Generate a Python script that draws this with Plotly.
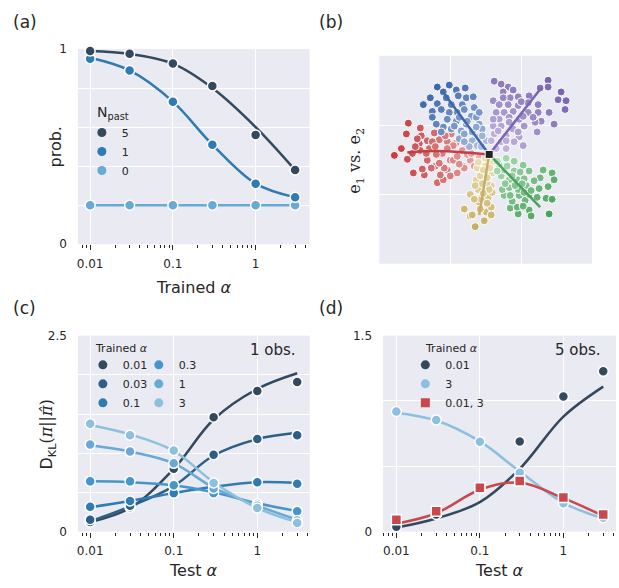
import math
import plotly.graph_objects as go

W, H = 619, 588
FONT = "DejaVu Sans"
TXT = "#262626"

# ---------------- data ----------------
alphas = [0.01, 0.03, 0.1, 0.3, 1, 3]

# (a) probability vs trained alpha
npast_labels = ["5", "1", "0"]
prob_n5 = [0.99, 0.975, 0.925, 0.81, 0.56, 0.38]
prob_n1 = [0.95, 0.89, 0.73, 0.51, 0.31, 0.24]
prob_n0 = [0.20, 0.20, 0.20, 0.20, 0.20, 0.20]
fit_n5 = [0.99, 0.975, 0.925, 0.80, 0.60, 0.38]
fit_n1 = [0.955, 0.89, 0.73, 0.51, 0.31, 0.24]
fit_n0 = [0.20, 0.20, 0.20, 0.20, 0.20, 0.20]

# (b) embedding scatter (arbitrary units)
center_xy = [110, 112]
blue_x = [58, 70, 64, 51, 44, 58, 86, 53, 77, 67, 79, 87, 72, 83, 95, 62, 70, 78, 92, 53, 68, 97, 77, 64, 87, 100, 72, 82, 93, 103, 80, 93, 100, 90, 98, 107, 94,
          85, 100, 75, 85, 97, 88, 103, 85, 102, 80, 62, 57]
blue_y = [181, 183, 176, 170, 163, 164, 180, 156, 178, 170, 172, 170, 163, 163, 160, 158, 155, 155, 151, 150, 148, 150, 146, 140, 143, 143, 138, 136, 135, 138, 128, 126, 130, 120, 121, 126, 171,
          158, 155, 141, 133, 140, 146, 131, 125, 120, 150, 135, 143]
purple_x = [169, 169, 182, 179, 187, 186, 175, 162, 170, 158, 115, 122, 129, 150, 161, 114, 124, 131, 139, 120, 129, 139, 149, 159, 117, 125, 134, 149, 159, 120, 130, 140, 156, 114, 122, 134, 145, 115, 127, 140, 112, 122, 135, 144, 117, 127,
            119, 130, 139, 144, 124, 134, 142, 154, 127, 114]
purple_y = [188, 181, 176, 168, 167, 158, 143, 146, 155, 135, 187, 184, 181, 172, 180, 167, 176, 170, 171, 163, 163, 162, 165, 163, 155, 155, 156, 155, 155, 148, 150, 148, 145, 141, 141, 138, 141, 133, 131, 130, 126, 125, 125, 121, 118, 118,
            136, 145, 135, 151, 170, 178, 166, 150, 126, 148]
red_x = [29, 27, 41, 42, 55, 63, 72, 15, 33, 50, 40, 60, 68, 77, 87, 97, 48, 83, 28, 34, 45, 58, 64, 41, 48, 56, 68, 78, 84, 71, 91, 98, 63, 83, 74, 53, 38, 43, 52, 61, 71, 65, 60, 74, 85, 95,
         88, 92, 78, 68, 57, 47, 80, 100, 90, 66, 56, 36, 22]
red_y = [144, 133, 139, 131, 134, 136, 133, 111, 113, 118, 123, 127, 125, 124, 121, 120, 126, 131, 107, 93, 91, 83, 86, 116, 106, 100, 96, 93, 100, 106, 106, 100, 113, 116, 121, 125, 128, 97, 98, 91, 90, 98, 103, 106, 98, 100,
         112, 113, 110, 118, 112, 113, 102, 108, 125, 131, 120, 120, 118]
yellow_x = [91, 85, 91, 96, 105, 100, 107, 100, 97, 105, 103, 107, 112, 109, 112, 112, 114, 110, 102, 108, 101, 106, 98, 113, 99, 113, 93,
            104, 108, 103, 110, 104, 95, 108, 101, 96, 111, 106, 99]
yellow_y = [71, 56, 49, 38, 44, 63, 70, 80, 86, 90, 100, 53, 80, 68, 58, 50, 103, 91, 66, 83, 90, 100, 98, 93, 76, 73, 50,
            96, 88, 82, 76, 72, 66, 62, 56, 80, 98, 108, 104]
green_x = [164, 173, 161, 175, 169, 160, 167, 173, 170, 150, 152, 139, 131, 138, 146, 133, 125, 131, 140, 150, 123, 130, 139, 147, 122, 130, 139, 145, 150, 144, 135, 127, 120, 125, 135, 145,
           118, 128, 133, 141, 126, 136, 143, 155, 152, 158, 118, 144]
green_y = [96, 93, 88, 86, 79, 77, 67, 66, 51, 55, 49, 51, 57, 58, 65, 64, 70, 70, 70, 71, 76, 78, 76, 80, 90, 86, 86, 87, 95, 101, 105, 108, 101, 96, 95, 73,
           105, 100, 90, 94, 82, 80, 82, 85, 75, 68, 95, 59]
blue_line_x, blue_line_y = [110, 63], [112, 177]
purple_line_x, purple_line_y = [110, 162], [112, 180]
red_line_x, red_line_y = [110, 58, 28], [112, 115.5, 114]
yellow_line_x, yellow_line_y = [110, 100], [112, 50]
green_line_x, green_line_y = [110, 161], [112, 58]

# (c) KL divergence, 1 observation
trained_labels = ["0.01", "0.03", "0.1", "0.3", "1", "3"]
kl1_001 = [0.12, 0.31, 0.80, 1.46, 1.795, 1.91]
kl1_003 = [0.15, 0.33, 0.58, 0.98, 1.18, 1.23]
kl1_01 = [0.315, 0.39, 0.49, 0.57, 0.63, 0.61]
kl1_03 = [0.64, 0.64, 0.59, 0.49, 0.35, 0.26]
kl1_1 = [1.11, 1.02, 0.87, 0.55, 0.33, 0.14]
kl1_3 = [1.375, 1.23, 1.035, 0.62, 0.30, 0.11]
fit1_001 = [0.12, 0.30, 0.80, 1.43, 1.82, 2.02]
fit1_003 = [0.13, 0.32, 0.58, 0.97, 1.18, 1.26]
fit1_01 = [0.31, 0.39, 0.49, 0.57, 0.63, 0.62]
fit1_03 = [0.64, 0.63, 0.59, 0.50, 0.36, 0.26]
fit1_1 = [1.10, 1.02, 0.87, 0.56, 0.33, 0.15]
fit1_3 = [1.36, 1.24, 1.03, 0.63, 0.30, 0.12]

# (d) KL divergence, 5 observations
d_labels = ["0.01", "3", "0.01, 3"]
kl5_001 = [0.037, 0.13, 0.33, 0.69, 1.035, 1.227]
kl5_3 = [0.92, 0.855, 0.687, 0.45, 0.217, 0.105]
kl5_mix = [0.09, 0.155, 0.335, 0.387, 0.26, 0.13]
fit5_001 = [0.03, 0.10, 0.225, 0.48, 0.88, 1.11]
fit5_3 = [0.91, 0.85, 0.69, 0.46, 0.22, 0.10]
fit5_mix = [0.06, 0.14, 0.32, 0.375, 0.255, 0.12]

# ---------------- style ----------------
BL = ["#33495e", "#2e5f87", "#2f7bb4", "#4596ca", "#68a9d5", "#8dc0de"]
RED = "#c8484d"
MS = 10

fig = go.Figure()


def line(x, y, color, xa, ya, width=2.5):
    fig.add_trace(go.Scatter(x=x, y=y, mode="lines", xaxis=xa, yaxis=ya,
                             line=dict(color=color, width=width, shape="spline"),
                             showlegend=False, hoverinfo="skip", cliponaxis=False))


def pts(x, y, color, xa, ya, symbol="circle", size=MS):
    fig.add_trace(go.Scatter(x=x, y=y, mode="markers", xaxis=xa, yaxis=ya,
                             marker=dict(color=color, size=size, symbol=symbol,
                                         line=dict(color="white", width=1.5)),
                             showlegend=False, cliponaxis=False))


def leg(name, color, legend, symbol="circle"):
    fig.add_trace(go.Scatter(x=[None], y=[None], mode="markers", name=name,
                             marker=dict(color=color, size=9, symbol=symbol, line=dict(width=0)),
                             legend=legend, showlegend=True))


# (a)
for f, c in [(fit_n0, BL[4]), (fit_n1, BL[2]), (fit_n5, BL[0])]:
    line(alphas, f, c, "x", "y")
for p, c in [(prob_n0, BL[4]), (prob_n1, BL[2]), (prob_n5, BL[0])]:
    pts(alphas, p, c, "x", "y")
for lab, c in zip(npast_labels, [BL[0], BL[2], BL[4]]):
    leg(lab, c, "legend")

# (b)
clusters = [
    (red_x, red_y, "#ecb5b3", "#c23f45"),
    (yellow_x, yellow_y, "#f0e5c2", "#c8ae62"),
    (green_x, green_y, "#bce2c2", "#4aa35c"),
    (blue_x, blue_y, "#b8cae8", "#3f67ad"),
    (purple_x, purple_y, "#cdc4e5", "#7a65b0"),
]
for cx, cy, light, dark in clusters:
    dist = [math.hypot(a - center_xy[0], b - center_xy[1]) for a, b in zip(cx, cy)]
    fig.add_trace(go.Scatter(x=cx, y=cy, mode="markers", xaxis="x2", yaxis="y2",
                             marker=dict(color=dist, colorscale=[[0, light], [1, dark]],
                                         cmin=0, cmax=max(dist), size=8,
                                         line=dict(color="white", width=1)),
                             showlegend=False))
for lx, ly, c in [(red_line_x, red_line_y, "#c23f45"), (yellow_line_x, yellow_line_y, "#c8ae62"),
                  (green_line_x, green_line_y, "#4aa35c"), (blue_line_x, blue_line_y, "#3f67ad"),
                  (purple_line_x, purple_line_y, "#7a65b0")]:
    line(lx, ly, c, "x2", "y2", width=2.5)
fig.add_trace(go.Scatter(x=[center_xy[0]], y=[center_xy[1]], mode="markers", xaxis="x2", yaxis="y2",
                         marker=dict(color="#222222", symbol="square", size=8,
                                     line=dict(color="white", width=1)), showlegend=False))

# (c)
fits1 = [fit1_001, fit1_003, fit1_01, fit1_03, fit1_1, fit1_3]
kls1 = [kl1_001, kl1_003, kl1_01, kl1_03, kl1_1, kl1_3]
for f, c in zip(fits1, BL):
    line(alphas, f, c, "x3", "y3")
for p, c in zip(kls1, BL):
    pts(alphas, p, c, "x3", "y3")
for i, (lab, c) in enumerate(zip(trained_labels, BL)):
    leg(lab, c, "legend2" if i < 3 else "legend3")

# (d)
line(alphas, fit5_3, BL[5], "x4", "y4")
line(alphas, fit5_001, BL[0], "x4", "y4")
line(alphas, fit5_mix, RED, "x4", "y4")
pts(alphas, kl5_001, BL[0], "x4", "y4")
pts(alphas, kl5_3, BL[5], "x4", "y4")
pts(alphas, kl5_mix, RED, "x4", "y4", symbol="square", size=MS)
for lab, c, s in zip(d_labels, [BL[0], BL[5], RED], ["circle", "circle", "square"]):
    leg(lab, c, "legend4", symbol=s)

# ---------------- layout ----------------
minor_vals = [0.007, 0.008, 0.009, 0.02, 0.03, 0.04, 0.05, 0.06, 0.07, 0.08, 0.09,
              0.2, 0.3, 0.4, 0.5, 0.6, 0.7, 0.8, 0.9, 2, 3, 4]


def px_x(a, b):
    return [a / W, b / W]


def px_y(top, bottom):
    return [1 - bottom / H, 1 - top / H]


def logx(dom, rng, anchor):
    return dict(domain=dom, anchor=anchor, type="log", range=rng,
                tickmode="array", tickvals=[0.01, 0.1, 1], ticktext=["0.01", "0.1", "1"],
                ticks="outside", ticklen=5, tickwidth=1, tickcolor=TXT,
                showgrid=True, gridcolor="white", gridwidth=1.2, zeroline=False, showline=False,
                tickfont=dict(family=FONT, size=12, color=TXT), ticklabelstandoff=3,
                minor=dict(tickmode="array", tickvals=minor_vals, ticks="outside", ticklen=3,
                           tickwidth=1, tickcolor=TXT, showgrid=False))


def liny(dom, top, step, toplab, anchor):
    inner = [round(i * step, 3) for i in range(1, int(round(top / step)))]
    return dict(domain=dom, anchor=anchor, range=[0, top], tickmode="array",
                tickvals=[0, top], ticktext=["0", toplab], ticks="", showgrid=True,
                gridcolor="white", gridwidth=1.2, zeroline=False, showline=False,
                tickfont=dict(family=FONT, size=12, color=TXT), ticklabelstandoff=10,
                minor=dict(tickmode="array", tickvals=inner, ticks="", showgrid=True,
                           gridcolor="white", gridwidth=1.2))


legend_common = dict(bgcolor="rgba(0,0,0,0)", borderwidth=0,
                     font=dict(family=FONT, size=11, color=TXT),
                     xanchor="left", yanchor="middle", itemclick=False, itemdoubleclick=False)

fig.update_layout(
    width=W, height=H, autosize=False, margin=dict(l=0, r=0, t=0, b=0),
    paper_bgcolor="white", plot_bgcolor="#EAEAF2",
    font=dict(family=FONT, color=TXT),
    xaxis=logx(px_x(77, 309), [-2.148, 0.651], "y"),
    yaxis=liny(px_y(43, 243), 1.0, 0.2, "1", "x"),
    xaxis2=dict(domain=px_x(379, 592), anchor="y2", range=[0, 213], tickmode="array",
                tickvals=[71, 142], showticklabels=False, ticks="", showgrid=True,
                gridcolor="white", gridwidth=1.2, zeroline=False, showline=False),
    yaxis2=dict(domain=px_y(50, 263), anchor="x2", range=[0, 213], tickmode="array",
                tickvals=[71, 142], showticklabels=False, ticks="", showgrid=True,
                gridcolor="white", gridwidth=1.2, zeroline=False, showline=False),
    xaxis3=logx(px_x(77, 309.3), [-2.147, 0.628], "y3"),
    yaxis3=liny(px_y(336.7, 537.3), 2.5, 0.5, "2.5", "x3"),
    xaxis4=logx(px_x(382.7, 616), [-2.159, 0.630], "y4"),
    yaxis4=liny(px_y(336.7, 537.3), 1.5, 0.5, "1.5", "x4"),
    legend=dict(x=(101 - 20) / W, y=1 - 148 / H, **legend_common),
    legend2=dict(x=(102 - 20) / W, y=1 - 386 / H, **legend_common),
    legend3=dict(x=(158 - 20) / W, y=1 - 386 / H, **legend_common),
    legend4=dict(x=(425 - 20) / W, y=1 - 386 / H, **legend_common),
)

ALPHA = "<i>α</i>"
ann = [
    ("(a)", 10, 15.5, "left", 17, 0, FONT),
    ("(b)", 317, 15.5, "left", 17, 0, FONT),
    ("(c)", 10, 308, "left", 17, 0, FONT),
    ("(d)", 317, 308, "left", 17, 0, FONT),
    ("prob.", 55, 143, "center", 16, -90, FONT),
    ("Trained " + ALPHA, 193, 287, "center", 16, 0, FONT),
    ("e<sub>1</sub> vs. e<sub>2</sub>", 355, 157, "center", 16, -90, "DejaVu Serif"),
    ("D<sub>KL</sub><span style='font-family:DejaVu Serif'>(<i>π</i>||<i>π̂</i>)</span>", 47, 438, "center", 16, -90, FONT),
    ("Test " + ALPHA, 193, 577, "center", 16, 0, FONT),
    ("Test " + ALPHA, 499, 577, "center", 16, 0, FONT),
    ("1 obs.", 297, 351, "right", 15, 0, FONT),
    ("5 obs.", 603, 351, "right", 15, 0, FONT),
    ("N<sub>past</sub>", 94, 109, "left", 14, 0, FONT),
    ("Trained " + ALPHA, 92, 349.5, "left", 11, 0, FONT),
    ("Trained " + ALPHA, 423, 349.5, "left", 11, 0, FONT),
]
for text, x, y, xa, size, ang, fam in ann:
    fig.add_annotation(text=text, xref="paper", yref="paper", x=x / W, y=1 - y / H,
                       xanchor=xa, yanchor="middle", showarrow=False, textangle=ang,
                       font=dict(family=fam, size=size, color=TXT))

fig.write_html(
    "out.html",
    config={"displayModeBar": False, "responsive": False},
    post_script="document.documentElement.style.margin='0';document.body.style.margin='0';"
                "document.body.style.overflow='hidden';document.documentElement.style.overflow='hidden';",
)
